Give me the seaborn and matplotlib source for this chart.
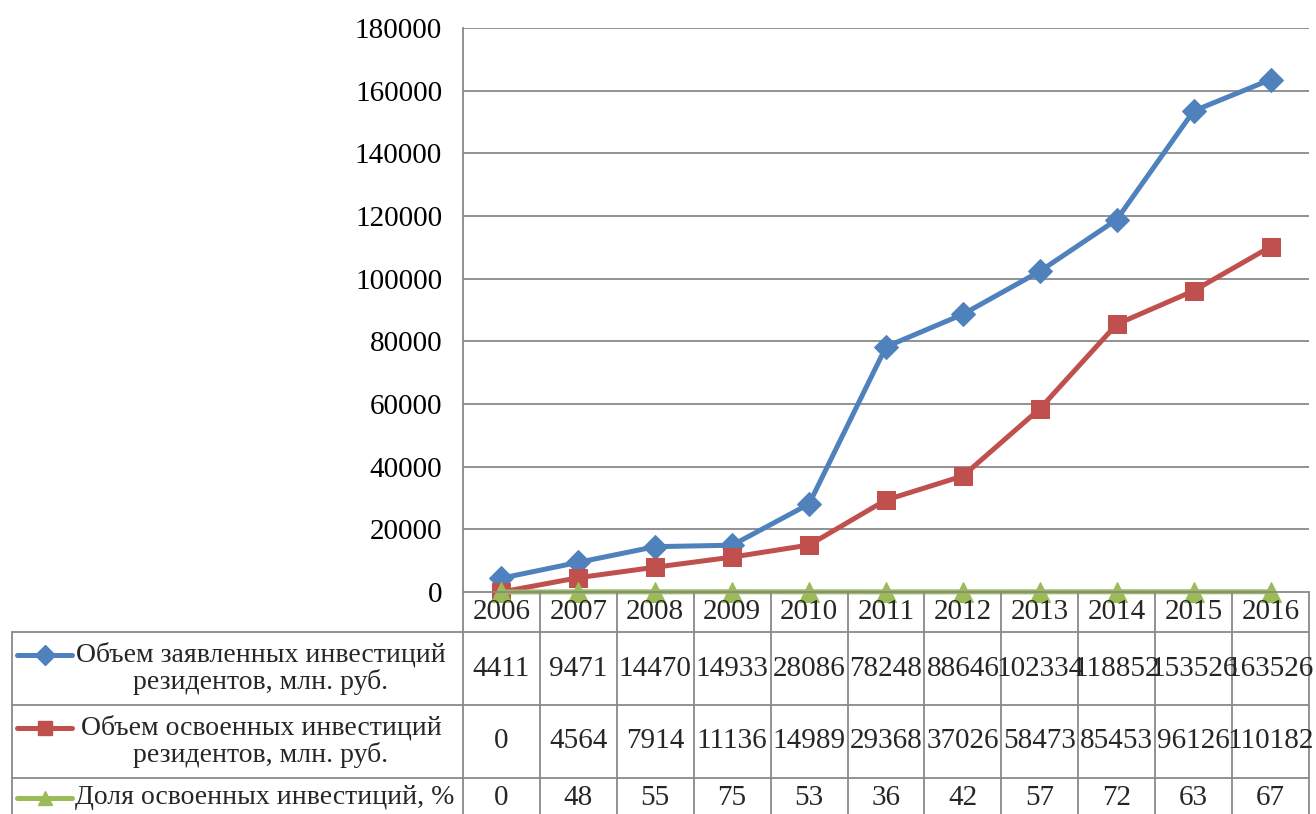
import matplotlib
matplotlib.use("Agg")
import matplotlib.pyplot as plt
import seaborn as sns
import numpy as np

years = [2006, 2007, 2008, 2009, 2010, 2011, 2012, 2013, 2014, 2015, 2016]
declared = [4411, 9471, 14470, 14933, 28086, 78248, 88646, 102334, 118852, 153526, 163526]
mastered = [0, 4564, 7914, 11136, 14989, 29368, 37026, 58473, 85453, 96126, 110182]
share = [0, 48, 55, 75, 53, 36, 42, 57, 72, 63, 67]

labels = ["Объем заявленных инвестиций\nрезидентов, млн. руб.",
          "Объем освоенных инвестиций\nрезидентов, млн. руб.",
          "Доля освоенных инвестиций, %"]
colors = ["#4F81BD", "#C0504D", "#9BBB59"]
markers = ["D", "s", "^"]
msizes = [12.5, 13, 15]
series = [declared, mastered, share]

sns.set_theme(style="white")
plt.rcParams['font.family'] = ['Liberation Serif', 'DejaVu Serif']

W, H = 1316, 814
fig = plt.figure(figsize=(W / 100, H / 100), dpi=100)

# pixel geometry
px_left, px_right, px_top, px_bottom = 463, 1309, 28, 592
lab_left = 12
row_edges = [592, 632, 705, 778, 817]
grid_col = "#898989"

ax = fig.add_axes([px_left / W, 1 - px_bottom / H, (px_right - px_left) / W, (px_bottom - px_top) / H])
xs = np.arange(len(years))
for vals, c, m, ms in zip(series, colors, markers, msizes):
    sns.lineplot(x=xs, y=vals, ax=ax, color=c, marker=m, markersize=ms,
                 markeredgecolor=c, linewidth=3.6, clip_on=False, zorder=3)
ax.set_xlim(-0.5, len(years) - 0.5)
ax.set_ylim(0, 180000)
ax.set_yticks(np.arange(0, 180001, 20000))
ax.set_yticklabels([str(v) for v in range(0, 180001, 20000)], fontsize=21, color="black")
ax.tick_params(axis='y', length=0, pad=15)
ax.set_xticks([])
ax.set_xlabel("")
ax.set_ylabel("")
for v in range(20000, 180001, 20000):
    ax.axhline(v, color=grid_col, lw=1.3, zorder=1)
for s in ["top", "right", "bottom"]:
    ax.spines[s].set_visible(False)
ax.spines["left"].set_color(grid_col)
ax.spines["left"].set_linewidth(1.3)
ax.patch.set_alpha(0)

# table axes
colw = (px_right - px_left) / len(years)
x_lab = -0.5 - (px_left - lab_left) / colw
tax = fig.add_axes([lab_left / W, 0, (px_right - lab_left) / W, (H - 592) / H])
tax.set_xlim(x_lab, len(years) - 0.5)
tax.set_ylim(H, 592)
tax.axis("off")
tax.patch.set_alpha(0)

def px2x(p):
    return -0.5 - (px_left - p) / colw

lkw = dict(color=grid_col, lw=1.3, clip_on=False, zorder=1)
tax.plot([-0.5, len(years) - 0.5], [592, 592], **lkw)
for y in row_edges[1:4]:
    tax.plot([x_lab, len(years) - 0.5], [y, y], **lkw)
for i in range(len(years) + 1):
    tax.plot([i - 0.5, i - 0.5], [592, H + 3], **lkw)
tax.plot([x_lab, x_lab], [632, H + 3], **lkw)

fs = 21
lfs = 20
for i, yv in enumerate(years):
    tax.text(i, 612, str(yv), ha="center", va="center", fontsize=fs)

row_centers = [668.5, 741.5, 798]
for r, (vals, lab, c, m) in enumerate(zip(series, labels, colors, markers)):
    yc = row_centers[r]
    for i, v in enumerate(vals):
        tax.text(i, yc, str(v), ha="center", va="center", fontsize=fs)
    if "\n" in lab:
        tax.text(px2x(261), yc, lab, ha="center", va="center", fontsize=lfs,
                 linespacing=1.05, multialignment="center")
        ky = yc - 14
    else:
        tax.text(px2x(75), yc, lab, ha="left", va="center", fontsize=lfs)
        ky = yc
    tax.plot([px2x(17), px2x(72)], [ky, ky], color=c, lw=3.6,
             solid_capstyle="round", clip_on=False)
    tax.plot([px2x(44.5)], [ky], marker=m, color=c, markersize=10, clip_on=False)

fig.savefig("out.png", dpi=100)
